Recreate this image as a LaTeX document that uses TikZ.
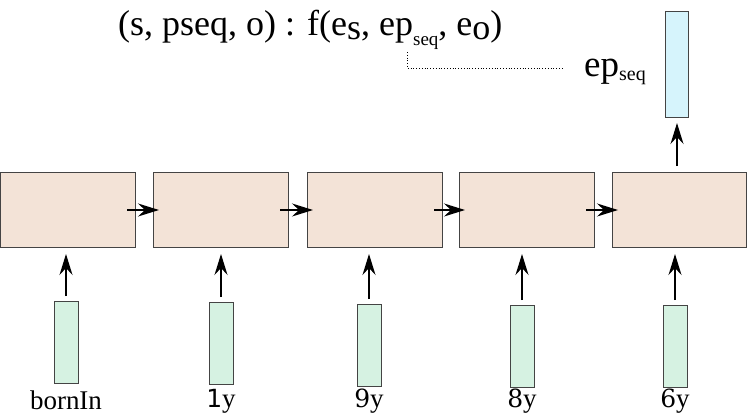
\documentclass[tikz,border=0pt]{standalone}
\usepackage{fontspec}
\setmainfont{Liberation Serif}
\newfontfamily\digitfont{DejaVu Serif}
\newfontfamily\onefont{DejaVu Sans}
\usetikzlibrary{arrows.meta,calc}
\definecolor{peach}{HTML}{F3E3D7}
\definecolor{mint}{HTML}{D6F2E2}
\definecolor{sky}{HTML}{D6F4FC}
\definecolor{edge}{HTML}{444444}
\begin{document}
\begin{tikzpicture}[x=1pt,y=-1pt,
  cell/.style={draw=edge,fill=peach,line width=1pt,minimum width=135pt,minimum height=75pt,inner sep=0pt,anchor=north west},
  inbar/.style={draw=edge,fill=mint,line width=1pt,minimum width=24pt,minimum height=82pt,inner sep=0pt,anchor=north},
  outbar/.style={draw=edge,fill=sky,line width=1pt,minimum width=23pt,minimum height=106pt,inner sep=0pt,anchor=north},
  arr/.style={-{Stealth[length=21pt,width=13pt,inset=7pt]},line width=1.2pt},
  lab/.style={font=\fontsize{27}{30}\selectfont,inner sep=0pt,anchor=base}]
\useasboundingbox (0,0) rectangle (747,416);
% cells
\node[cell] (c1) at (0,172) {};
\node[cell] (c2) at (153,172) {};
\node[cell] (c3) at (307,172) {};
\node[cell] (c4) at (459,172) {};
\node[cell,minimum width=134pt] (c5) at (612,172) {};
% input bars
\node[inbar] (b1) at (66,301) {};
\node[inbar] (b2) at (221,302) {};
\node[inbar] (b3) at (369,304) {};
\node[inbar] (b4) at (522,305) {};
\node[inbar] (b5) at (675,305) {};
% output bar
\node[outbar] (o) at (677,11) {};
% labels
\node[lab] (l1) at (66,409) {bornIn};
\node[lab] (l2) at (221,407) {{\onefont\fontsize{25}{28}\selectfont 1}y};
\node[lab] (l3) at (369,407) {{\digitfont\fontsize{25}{28}\selectfont 9}y};
\node[lab] (l4) at (522,407) {{\digitfont\fontsize{25}{28}\selectfont 8}y};
\node[lab] (l5) at (675,407) {{\digitfont\fontsize{25}{28}\selectfont 6}y};
% horizontal arrows
\foreach \a/\b in {c1/c2,c2/c3,c3/c4,c4/c5}
  \draw[arr] ($(\a.east)+(-9,0)$) -- ($(\b.west)+(6,0)$);
% vertical arrows
\foreach \i in {1,...,5}
  \draw[arr] ($(b\i.north)+(0,-5)$) -- ($(b\i.north |- c\i.south)+(0,6)$);
\draw[arr] ($(o.south |- c5.north)+(0,-6)$) -- ($(o.south)+(0,5)$);
% title
\node[font=\fontsize{36}{40}\selectfont,inner sep=0pt,anchor=base west] (t) at (118,35)
  {(s, pseq, o) : f(e\raisebox{-0.12em}{s}, ep\raisebox{-0.28em}{\fontsize{19}{20}\selectfont seq}, e\raisebox{-0.12em}{o})};
\coordinate (d0) at (407,52);
\node[inner sep=0pt,anchor=base west,font=\fontsize{37}{40}\selectfont] (ep) at (584,76) {ep\raisebox{-0.12em}{\fontsize{20}{22}\selectfont seq}};
\coordinate (d1) at (562,68);
\draw[dotted,line width=0.8pt] (d0) |- (d1);
\end{tikzpicture}
\end{document}
